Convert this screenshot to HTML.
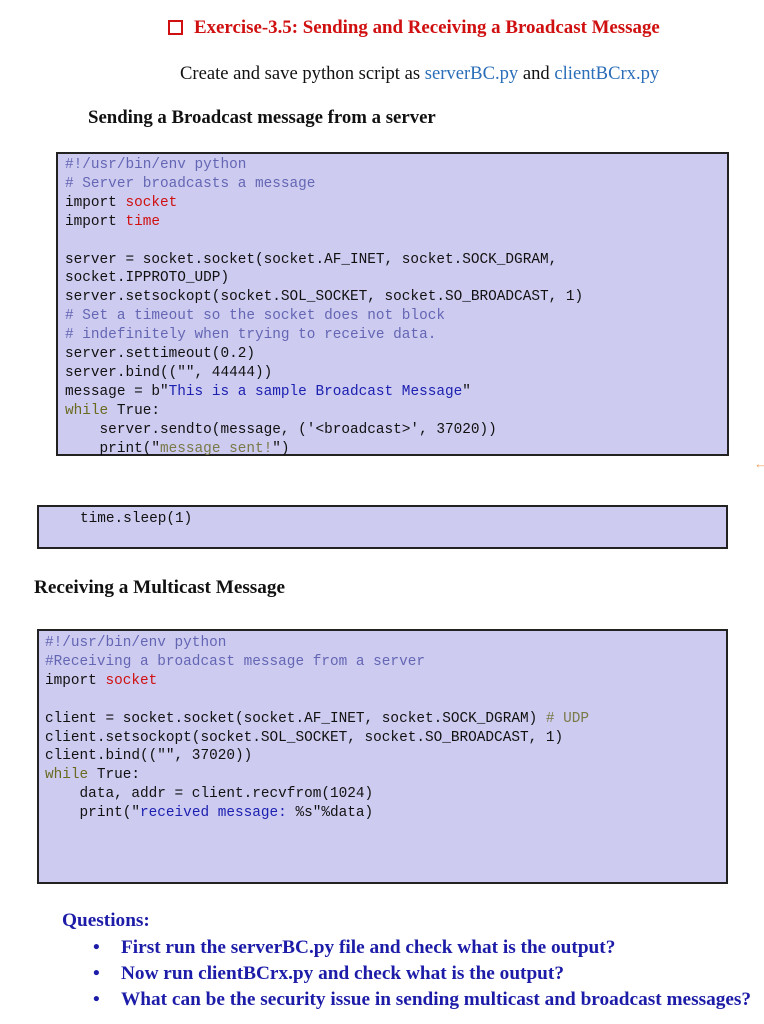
<!DOCTYPE html>
<html><head><meta charset="utf-8"><style>
body{margin:0;width:764px;height:1024px;background:#fff;position:relative;overflow:hidden;font-family:"Liberation Serif",serif}
.a{position:absolute;white-space:pre}
.box{position:absolute;background:#cdcbf0;border:2px solid #222;box-sizing:border-box}
.code{position:absolute;font-family:"Liberation Mono",monospace;font-size:14.4px;line-height:18.9px;white-space:pre;color:#111}
.r{color:#d01010}.c{color:#6466b4}.s{color:#1c20b0}.o{color:#7a7a48}.k{color:#6a6a20}
.q{color:#1c1ca8;font-weight:bold;font-size:19.3px}
</style></head><body>
<div class="a" style="left:168px;top:20px;width:11px;height:11px;border:2px solid #d01010;background:#fff"></div>
<div class="a" style="left:194px;top:17px;font-size:18.9px;font-weight:bold;color:#d01010">Exercise-3.5: Sending and Receiving a Broadcast Message</div>
<div class="a" style="left:180px;top:63px;font-size:18.6px;color:#111">Create and save python script as <span style="color:#2a6db8">serverBC.py</span> and <span style="color:#2a6db8">clientBCrx.py</span></div>
<div class="a" style="left:88px;top:107px;font-size:18.8px;font-weight:bold;color:#111">Sending a Broadcast message from a server</div>
<div class="box" style="left:56px;top:152px;width:673px;height:304px"></div>
<div class="code" style="left:65px;top:156px"><span class="c">#!/usr/bin/env python
# Server broadcasts a message</span>
import <span class="r">socket</span>
import <span class="r">time</span>

server = socket.socket(socket.AF_INET, socket.SOCK_DGRAM,
socket.IPPROTO_UDP)
server.setsockopt(socket.SOL_SOCKET, socket.SO_BROADCAST, 1)
<span class="c"># Set a timeout so the socket does not block
# indefinitely when trying to receive data.</span>
server.settimeout(0.2)
server.bind(("", 44444))
message = b"<span class="s">This is a sample Broadcast Message</span>"
<span class="k">while</span> True:
    server.sendto(message, ('&lt;broadcast&gt;', 37020))
    print("<span class="o">message sent!</span>")</div>
<div class="a" style="left:754px;top:456px;color:#f0a060;font-size:13px">←</div>
<div class="box" style="left:37px;top:505px;width:691px;height:44px"></div>
<div class="code" style="left:80px;top:510px">time.sleep(1)</div>
<div class="a" style="left:34px;top:577px;font-size:19.2px;font-weight:bold;color:#111">Receiving a Multicast Message</div>
<div class="box" style="left:37px;top:629px;width:691px;height:255px"></div>
<div class="code" style="left:45px;top:634px"><span class="c">#!/usr/bin/env python
#Receiving a broadcast message from a server</span>
import <span class="r">socket</span>

client = socket.socket(socket.AF_INET, socket.SOCK_DGRAM) <span class="o"># UDP</span>
client.setsockopt(socket.SOL_SOCKET, socket.SO_BROADCAST, 1)
client.bind(("", 37020))
<span class="k">while</span> True:
    data, addr = client.recvfrom(1024)
    print("<span class="s">received message: </span>%s"%data)</div>
<div class="a q" style="left:62px;top:910px">Questions:</div>
<div class="a q" style="left:93px;top:937px">•</div><div class="a q" style="left:121px;top:937px">First run the serverBC.py file and check what is the output?</div>
<div class="a q" style="left:93px;top:963px">•</div><div class="a q" style="left:121px;top:963px">Now run clientBCrx.py and check what is the output?</div>
<div class="a q" style="left:93px;top:989px">•</div><div class="a q" style="left:121px;top:989px">What can be the security issue in sending multicast and broadcast messages?</div>
</body></html>
